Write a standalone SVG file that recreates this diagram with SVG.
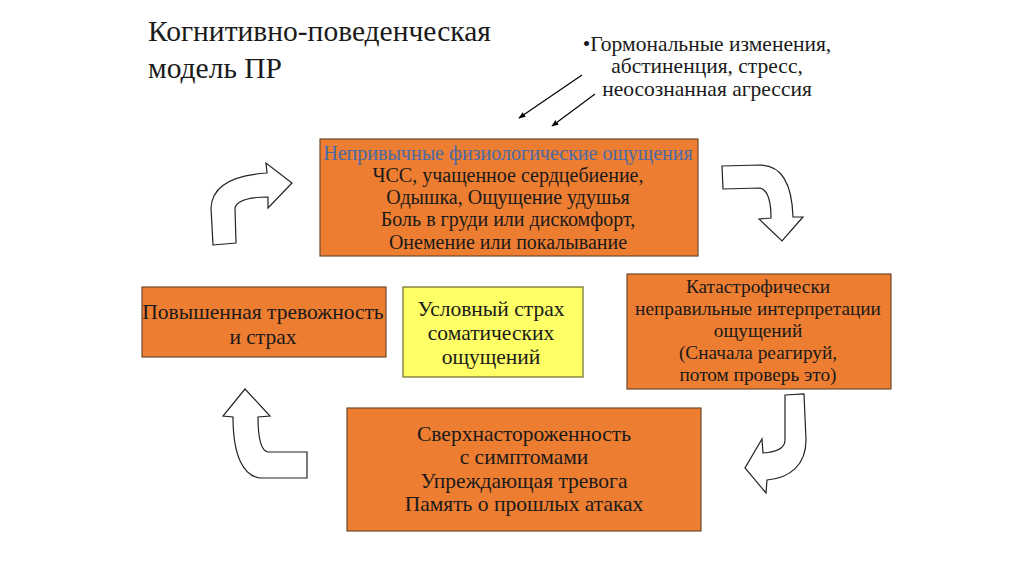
<svg xmlns="http://www.w3.org/2000/svg" width="1024" height="574" viewBox="0 0 1024 574">
<defs>
<marker id="ah" viewBox="0 0 10 10" refX="9" refY="5" markerWidth="7" markerHeight="7" orient="auto-start-reverse" markerUnits="userSpaceOnUse">
<path d="M0,1 L10,5 L0,9 Z" fill="#000"/>
</marker>
</defs>
<style>
text{fill:#1a1a1a;text-anchor:middle}
.box{fill:#ED7D31;stroke:#6b4a2a;stroke-width:1.2}
.yel{fill:#FFFF66;stroke:#6b6b2a;stroke-width:1.2}
.big{stroke:#222;stroke-width:1.2;fill:#fff;stroke-linejoin:miter}
.t20{font-size:20px}
.t19{font-size:19.3px}
.t21{font-size:21.5px}
</style>
<rect width="1024" height="574" fill="#fff"/>
<g font-family="'Liberation Serif', 'Times New Roman', 'DejaVu Serif', serif">
<g id="title">
<text x="148" y="41" font-size="29.5" text-anchor="start" style="text-anchor:start">Когнитивно-поведенческая</text>
<text x="148" y="78" font-size="29.5" text-anchor="start" style="text-anchor:start">модель ПР</text>
</g>
<g id="triggers">
<text class="t21" x="707" y="51">•Гормональные изменения,</text>
<text class="t21" x="707" y="73">абстиненция, стресс,</text>
<text class="t21" x="707" y="96">неосознанная агрессия</text>
</g>
<g id="connectors">
<line x1="582" y1="75" x2="519" y2="118" stroke="#000" stroke-width="1.2" marker-end="url(#ah)"/>
<line x1="595" y1="94" x2="552" y2="126" stroke="#000" stroke-width="1.2" marker-end="url(#ah)"/>
<path class="big" d="M213,245 L236,243 L235,208 C237,200 250,197 268,197 L268,208 L292,183 L266,163 L267,173 C235,175 212,185 211,208 Z"/>
<path class="big" d="M722,166 L723,189 L760,188 C768,190 771,200 771,218 L759,219 L782,241 L803,217 L793,217 C792,185 782,165 760,165 Z"/>
<path class="big" d="M785,395 L804,394 L806,440 C806,465 790,478 767,480 L766,493 L745,468 L762,439 L763,453 C778,452 785,447 785,440 Z"/>
<path class="big" d="M245,389 L270,416 L258,417 C258,440 262,451 268,452 L307,452 L307,478 L260,478 C243,476 233,455 233,417 L223,416 Z"/>
</g>
<g id="sensations">
<rect class="box" x="320" y="139" width="378" height="117"/>
<text class="t20" x="508" y="160" style="fill:#4a6aa8">Непривычные физиологические ощущения</text>
<text class="t20" x="508" y="182">ЧСС, учащенное сердцебиение,</text>
<text class="t20" x="508" y="204">Одышка, Ощущение удушья</text>
<text class="t20" x="508" y="226">Боль в груди или дискомфорт,</text>
<text class="t20" x="508" y="249">Онемение или покалывание</text>
</g>
<g id="interpretation">
<rect class="box" x="627" y="274" width="264" height="115"/>
<text class="t19" x="758" y="293">Катастрофически</text>
<text class="t19" x="758" y="315">неправильные интерпретации</text>
<text class="t19" x="758" y="337">ощущений</text>
<text class="t19" x="758" y="359">(Сначала реагируй,</text>
<text class="t19" x="758" y="381">потом проверь это)</text>
</g>
<g id="hypervigilance">
<rect class="box" x="347" y="408" width="354" height="123"/>
<text class="t21" x="524" y="441">Сверхнастороженность</text>
<text class="t21" x="524" y="464">с симптомами</text>
<text class="t21" x="524" y="488">Упреждающая тревога</text>
<text class="t21" x="524" y="511">Память о прошлых атаках</text>
</g>
<g id="anxiety">
<rect class="box" x="142" y="287" width="244" height="70"/>
<text class="t21" x="263" y="319">Повышенная тревожность</text>
<text class="t21" x="263" y="344">и страх</text>
</g>
<g id="conditioned">
<rect class="yel" x="403" y="287" width="180" height="90"/>
<text class="t21" x="491" y="316">Условный страх</text>
<text class="t21" x="491" y="340">соматических</text>
<text class="t21" x="491" y="364">ощущений</text>
</g>
</g>
</svg>
